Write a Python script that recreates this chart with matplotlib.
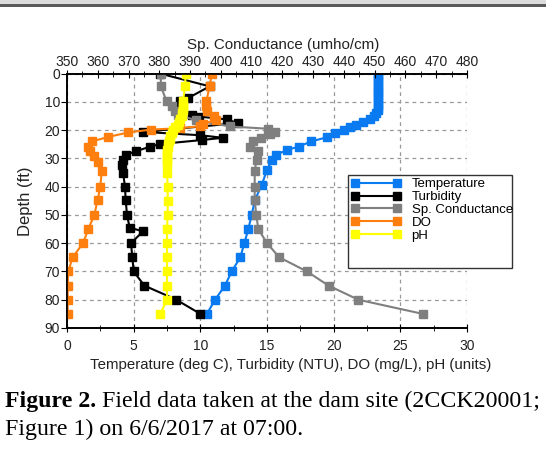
import matplotlib
matplotlib.use("Agg")
import matplotlib.pyplot as plt
from matplotlib.patches import Rectangle
from matplotlib.lines import Line2D
from matplotlib.ticker import MultipleLocator

plt.rcParams['font.family'] = ['Liberation Sans', 'DejaVu Sans']

# ---- data ----
temp_depth = [0, 1, 2, 3, 4, 5, 6, 7, 8, 9, 10, 11, 12, 13, 14, 15, 16, 17, 18, 19,
              20, 21, 22.5, 24, 25.8, 27, 28.7, 30.5, 34, 39.5, 44.6, 50, 55, 60, 65,
              70, 75, 80, 85]
temp = [23.3, 23.3, 23.3, 23.3, 23.3, 23.3, 23.3, 23.3, 23.3, 23.3, 23.3, 23.3, 23.3,
        23.3, 23.2, 23.0, 22.7, 22.2, 21.7, 21.2, 20.8, 20.1, 19.5, 18.3, 17.4, 16.5,
        15.7, 15.4, 15.0, 14.6, 14.1, 13.85, 13.6, 13.3, 13.0, 12.35, 11.85, 11.1, 10.5]

turb_depth = [0, 4.5, 8.6, 9.8, 11.5, 13, 14.6, 15.2, 16.2, 17.5, 20.6, 21.8, 22.7,
              23.5, 24.9, 25.9, 27.4, 28.8, 30.5, 32.5, 35, 40, 44.6, 50, 54.5, 55.8,
              60, 65, 70, 75, 80, 85]
turb = [7.0, 10.7, 9.1, 8.5, 8.5, 8.6, 9.4, 9.9, 12.0, 12.8, 5.7, 10.0, 11.7, 10.1,
        7.0, 6.2, 5.2, 4.4, 4.2, 4.15, 4.2, 4.35, 4.4, 4.5, 4.7, 5.7, 4.8, 4.9, 5.0,
        5.8, 8.2, 10.0]

cond_depth = [0, 4.5, 9.8, 11.5, 13.3, 14.6, 16.5, 18.7, 19.5, 20.8, 21.5, 22.8, 24,
              25.8, 27.5, 30.5, 34.6, 40, 44.6, 50, 55, 60, 65, 70, 75, 80, 85]
cond = [380.5, 380.5, 382.4, 384.0, 385.1, 386, 392, 403, 415.4, 417.6, 416, 413,
        410.5, 409.5, 412.2, 411.6, 411, 411, 411, 411.5, 412.2, 415, 419, 428, 435,
        444.7, 465.6]

do_depth = [0.3, 4.5, 9.8, 11.5, 13.3, 15, 16.5, 17.7, 18.6, 19.3, 19.8, 20.8, 22.4,
            24, 25.8, 27.5, 29.3, 31.1, 34.6, 40, 44.6, 50, 55, 60, 65, 70, 75, 80, 85]
do = [10.85, 10.7, 10.45, 10.4, 10.5, 11.0, 11.2, 10.2, 10.0, 8.5, 6.3, 4.6, 3.1,
      1.85, 1.6, 1.75, 2.05, 2.3, 2.6, 2.5, 2.3, 2.05, 1.6, 1.2, 0.42, 0.1, 0.05,
      0.05, 0.05]

ph_depth = [0.3, 4.5, 9.8, 11, 12, 13, 14, 15, 16, 17, 18, 19, 20, 21, 22, 23, 24,
            25, 26, 27, 28, 29, 30, 31, 32, 35, 40, 45, 50, 55, 60, 65, 70, 75, 80, 85]
ph = [8.9, 8.85, 8.7, 8.7, 8.7, 8.7, 8.65, 8.6, 8.5, 8.4, 8.3, 8.1, 7.95, 7.85, 7.75,
      7.7, 7.65, 7.6, 7.55, 7.5, 7.5, 7.5, 7.5, 7.5, 7.5, 7.5, 7.55, 7.55, 7.55, 7.5,
      7.5, 7.5, 7.5, 7.5, 7.5, 7.0]

labels = ["Temperature", "Turbidity", "Sp. Conductance", "DO", "pH"]
colors = ["#0a7af0", "#000000", "#7f7f7f", "#ff7f0e", "#ffff00"]

fig = plt.figure(figsize=(5.46, 4.49), dpi=100)
ax = fig.add_axes([0.1227, 0.2695, 0.7326, 0.5665])
ax2 = ax.twiny()
ax2.patch.set_visible(False)

mk = dict(marker="s", markersize=5.8, linewidth=1.5)
ax.plot(temp, temp_depth, color=colors[0], **mk)
ax.plot(turb, turb_depth, color=colors[1], **mk)
ax2.plot(cond, cond_depth, color=colors[2], **mk)
ax2.plot(do, do_depth, color=colors[3], transform=ax.transData, **mk)
ax2.plot(ph, ph_depth, color=colors[4], transform=ax.transData, **mk)

ax.set_xlim(0, 30)
ax.set_ylim(90, 0)
ax2.set_xlim(350, 480)

ax.xaxis.set_major_locator(MultipleLocator(5))
ax.xaxis.set_minor_locator(MultipleLocator(2.5))
ax.yaxis.set_major_locator(MultipleLocator(10))
ax2.xaxis.set_major_locator(MultipleLocator(10))
ax2.xaxis.set_minor_locator(MultipleLocator(5))

ax.grid(True, which="major", linestyle=(0, (3, 3)), color="#999999", linewidth=0.9)
ax.tick_params(axis="x", which="major", direction="inout", length=6, pad=5,
               labelsize=10, labelcolor="#222222")
ax.tick_params(axis="x", which="minor", direction="inout", length=4)
ax.tick_params(axis="y", which="major", direction="out", length=4, pad=1,
               labelsize=10, labelcolor="#222222")
ax2.tick_params(axis="x", which="major", direction="inout", length=6, pad=0.5,
                labelsize=10, labelcolor="#222222")
ax2.tick_params(axis="x", which="minor", direction="inout", length=4)
for a in (ax, ax2):
    for s in a.spines.values():
        s.set_linewidth(1.2)
        s.set_color("black")
ax2.spines["right"].set_visible(False)
ax.spines["right"].set_visible(False)

ax.set_xlabel("Temperature (deg C), Turbidity (NTU), DO (mg/L), pH (units)",
              fontsize=10.8, labelpad=3.5, color="#222222")
ax.xaxis.label.set_x(0.56)
ax.set_ylabel("Depth (ft)", fontsize=12, labelpad=8.3, color="#222222")
ax2.set_xlabel("Sp. Conductance (umho/cm)", fontsize=10.9, labelpad=4.5,
               color="#222222")
ax2.xaxis.label.set_x(0.54)

# legend box
box = Rectangle((0.7025, 0.236), 0.41, 0.366, transform=ax.transAxes, clip_on=False,
                facecolor="white", edgecolor="#333333", linewidth=1.0, zorder=10)
ax2.add_patch(box)
handles = [Line2D([0], [0], color=c, marker="s", markersize=5.8, linewidth=1.5)
           for c in colors]
leg = ax2.legend(handles, labels, loc="upper left", bbox_to_anchor=(0.703, 0.60),
                 frameon=False, fontsize=9.5, numpoints=2, handlelength=3.8,
                 handletextpad=0.8, labelspacing=0.05, borderpad=0.2,
                 borderaxespad=0)
leg.set_zorder(11)

# band at the top and caption
fig.add_artist(Rectangle((0, 1 - 4.5 / 449), 1, 4.5 / 449, transform=fig.transFigure,
                         facecolor="#dcdcdc", edgecolor="none"))
fig.add_artist(Rectangle((0, 1 - 7 / 449), 1, 2.5 / 449, transform=fig.transFigure,
                         facecolor="#5a5a5a", edgecolor="none"))
t1 = fig.text(5 / 546, 1 - 407 / 449, "Figure 2.", fontsize=17.2, fontweight="bold",
              family="Liberation Serif", va="baseline")
fig.canvas.draw()
bb = t1.get_window_extent(fig.canvas.get_renderer())
x_next = bb.x1 / fig.bbox.width
fig.text(x_next, 1 - 407 / 449, " Field data taken at the dam site (2CCK20001;",
         fontsize=17.2, family="Liberation Serif", va="baseline")
fig.text(5 / 546, 1 - 435 / 449, "Figure 1) on 6/6/2017 at 07:00.", fontsize=17.2,
         family="Liberation Serif", va="baseline")

fig.savefig("out.png", dpi=100)
